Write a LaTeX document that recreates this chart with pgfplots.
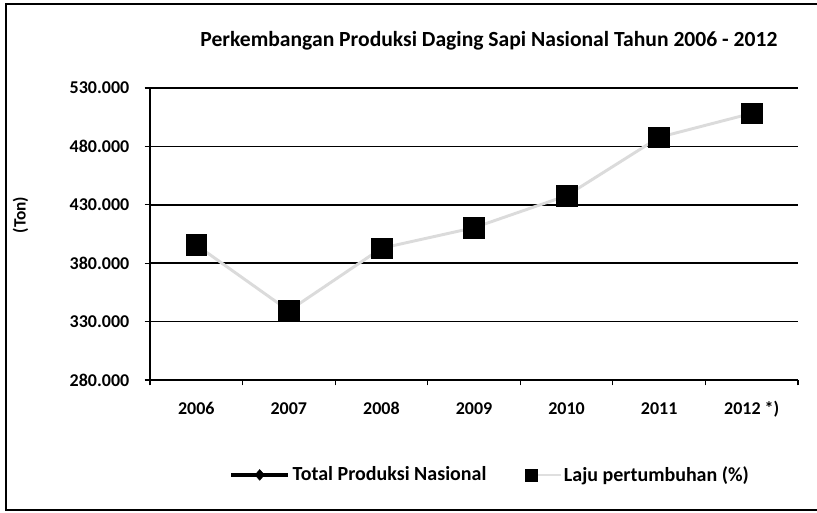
\documentclass[border=0pt]{standalone}
\usepackage{fontspec}
\setmainfont{Carlito}
\usepackage{pgfplots}
\pgfplotsset{compat=1.18}

\begin{document}
\begin{tikzpicture}
% page: 817 x 512 px, 1 px = 0.75pt
\path[use as bounding box] (0,0) rectangle (612.75pt,384pt);
\draw[line width=1.1pt] (612.75pt,381pt) -- (4.5pt,381pt) -- (4.5pt,1.5pt) -- (612.75pt,1.5pt);
\begin{axis}[
	at={(112.5pt,99pt)}, anchor=south west,
	scale only axis, width=486pt, height=219pt,
	xmin=-0.5, xmax=6.5, ymin=280000, ymax=530000,
	axis lines*=left, axis line style={line width=1.1pt},
	xtick={0,...,6},
	xticklabels={2006,2007,2008,2009,2010,2011,{2012 *)}},
	major x tick style={draw=none},
	minor xtick={-0.5,0.5,...,6.5},
	ytick={280000,330000,...,530000},
	tick align=outside, major tick length=4pt, minor tick length=4pt,
	every tick/.style={black, line width=0.9pt},
	ymajorgrids, grid style={black, line width=1.3pt},
	scaled y ticks=false,
	/pgf/number format/.cd, fixed, 1000 sep={.}, assume math mode=true, /pgfplots/.cd,
	yticklabel={\pgfmathprintnumber[fixed,1000 sep={.}]{\tick}},
	ticklabel style={font=\bfseries\fontsize{13.5}{15}\selectfont},
	yticklabel style={xshift=-8pt},
	xticklabel style={anchor=base, yshift=-21.5pt},
	ylabel={(Ton)}, ylabel style={font=\bfseries\fontsize{13}{15}\selectfont, at={(axis description cs:-0.2,0.565)}, anchor=center},
	title={Perkembangan Produksi Daging Sapi Nasional Tahun 2006 - 2012},
	title style={font=\bfseries\fontsize{16.2}{19}\selectfont, at={(axis description cs:0.523,1.135)}, anchor=center},
	legend columns=2,
	legend style={draw=none, fill=none, at={(axis description cs:0.116,-0.325)}, anchor=west,
		font=\bfseries\fontsize{15}{17}\selectfont, column sep=0pt,
		/tikz/every even column/.append style={column sep=27pt}},
	legend cell align=left,
	clip=false
	]
	\addplot[gray!28, line width=2.2pt, forget plot] coordinates {
		(0,395600) (1,339300) (2,392800) (3,410400) (4,437800) (5,487800) (6,508300)};
	\addplot[only marks, mark=square*, mark size=7.8pt, black, forget plot] coordinates {
		(0,395600) (1,339300) (2,392800) (3,410400) (4,437800) (5,487800) (6,508300)};
	\addlegendimage{legend image code/.code={
		\draw[black, line width=2.4pt] (0pt,0pt) -- (43pt,0pt);
		\fill[black] (21.5pt,4pt) -- (25pt,0pt) -- (21.5pt,-4pt) -- (18pt,0pt) -- cycle;}}
	\addlegendentry{Total Produksi Nasional}
	\addlegendimage{legend image code/.code={
		\draw[gray!25, line width=1pt] (4pt,0pt) -- (26pt,0pt);
		\fill[black] (-0.5pt,-4.5pt) rectangle (8.5pt,4.5pt);}}
	\addlegendentry{Laju pertumbuhan (\%)}
\end{axis}
\end{tikzpicture}
\end{document}
